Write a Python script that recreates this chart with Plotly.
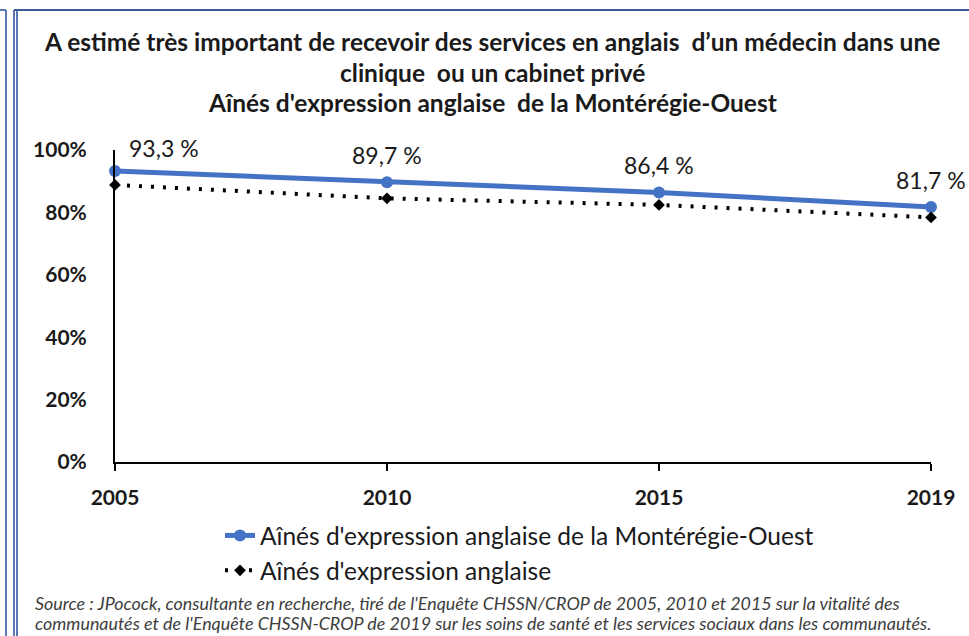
import plotly.graph_objects as go

years = ["2005", "2010", "2015", "2019"]
monteregie = [93.3, 89.7, 86.4, 81.7]
anglophones = [88.8, 84.5, 82.4, 78.4]
y_ticks = [0, 20, 40, 60, 80, 100]
y_ticktext = ["0%", "20%", "40%", "60%", "80%", "100%"]

title_lines = [
    "A estimé très important de recevoir des services en anglais  d’un médecin dans une",
    "clinique  ou un cabinet privé",
    "Aînés d'expression anglaise  de la Montérégie-Ouest",
]
source_lines = [
    "Source : JPocock, consultante en recherche, tiré de l'Enquête CHSSN/CROP de 2005, 2010 et 2015 sur la vitalité des",
    "communautés et de l'Enquête CHSSN-CROP de 2019 sur les soins de santé et les services sociaux dans les communautés.",
]
series_names = ["Aînés d'expression anglaise de la Montérégie-Ouest", "Aînés d'expression anglaise"]

W, H = 969, 636
L, R = 115, 931
T, B = 150, 462

def px(x):
    return (x - L) / (R - L)

def py(y):
    return (B - y) / (B - T)

FONT = "Lato"
DARK = "#1a1a1a"

fig = go.Figure()
fig.add_trace(go.Scatter(
    x=years, y=monteregie, name=series_names[0], mode="lines+markers",
    line=dict(color="#4472C4", width=5),
    marker=dict(symbol="circle", size=12, color="#4472C4"),
    cliponaxis=False,
))
fig.add_trace(go.Scatter(
    x=years, y=anglophones, name=series_names[1], mode="lines+markers",
    line=dict(color="#000000", width=4, dash="3px,9px"),
    marker=dict(symbol="diamond", size=9, color="#000000"),
    cliponaxis=False,
))

annotations = []
for i, v in enumerate(monteregie):
    annotations.append(dict(
        x=i, y=v, xref="x", yref="y",
        text=f"{v:.1f}".replace(".", ",") + " %",
        showarrow=False, xanchor="center", yanchor="middle",
        xshift=49 if i == 0 else 0, yshift=23 if i == 0 else 27,
        font=dict(family=FONT, size=23, color=DARK),
    ))

title_y = [42, 72, 102]
for line, yc in zip(title_lines, title_y):
    annotations.append(dict(
        x=px(492), y=py(yc), xref="paper", yref="paper", text=line,
        showarrow=False, xanchor="center", yanchor="middle",
        font=dict(family=FONT, size=24.5, color=DARK, weight="bold"),
    ))

for line, yc in zip(source_lines, [603, 623]):
    annotations.append(dict(
        x=px(33), y=py(yc), xref="paper", yref="paper", text=line,
        showarrow=False, xanchor="left", yanchor="middle",
        font=dict(family=FONT, size=17.9, color="#3d3d3d", style="italic"),
    ))

shapes = [
    dict(type="line", xref="paper", yref="paper", x0=px(0), x1=px(6), y0=py(10), y1=py(10),
         line=dict(color="#5a78b4", width=2)),
    dict(type="line", xref="paper", yref="paper", x0=px(6), x1=px(6), y0=py(10), y1=py(640),
         line=dict(color="#5a78b4", width=2)),
    dict(type="line", xref="paper", yref="paper", x0=px(14), x1=px(14), y0=py(10), y1=py(640),
         line=dict(color="#5a78b4", width=2)),
    dict(type="line", xref="paper", yref="paper", x0=px(17), x1=px(17), y0=py(10), y1=py(640),
         line=dict(color="#5a78b4", width=2)),
    dict(type="line", xref="paper", yref="paper", x0=px(14), x1=px(975), y0=py(10), y1=py(10),
         line=dict(color="#3c5a96", width=2)),
]

fig.update_layout(
    width=W, height=H,
    margin=dict(l=L, r=W - R, t=T, b=H - B, autoexpand=False),
    paper_bgcolor="white", plot_bgcolor="white",
    showlegend=True,
    legend=dict(
        x=px(220), y=py(513), xanchor="left", yanchor="top",
        font=dict(family=FONT, size=24.5, color=DARK),
        bgcolor="rgba(0,0,0,0)", itemwidth=30, tracegroupgap=0,
    ),
    xaxis=dict(
        type="category", range=[0, 3], showgrid=False, zeroline=False,
        showline=True, linecolor="#000000", linewidth=2,
        ticks="outside", ticklen=7, tickwidth=1.5, tickcolor="#000000",
        tickfont=dict(family=FONT, size=21, color=DARK, weight="bold"),
        ticklabelstandoff=9,
    ),
    yaxis=dict(
        range=[0, 100], tickvals=y_ticks, ticktext=y_ticktext,
        showgrid=False, zeroline=False,
        showline=True, linecolor="#000000", linewidth=2, ticks="",
        tickfont=dict(family=FONT, size=21, color=DARK, weight="bold"),
        ticklabelstandoff=22,
    ),
    annotations=annotations,
    shapes=shapes,
)

fig.write_html("out.html", config={"displayModeBar": False},
               post_script="document.body.style.margin='0';")
